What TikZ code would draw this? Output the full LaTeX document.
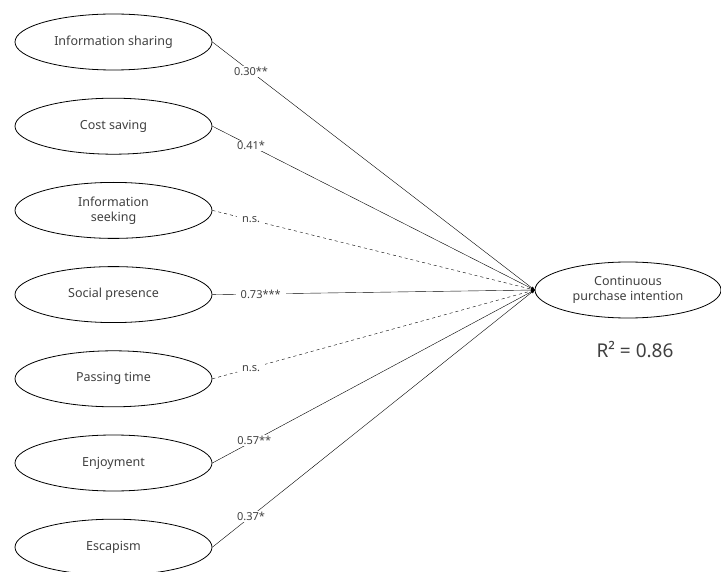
\documentclass[tikz,border=0pt]{standalone}
\usepackage{fontspec}
\setmainfont{Noto Sans}
\usetikzlibrary{arrows,shapes.geometric,positioning}

\begin{document}
\begin{tikzpicture}[>=stealth', x=1pt, y=-1pt, node distance=84.2pt,
  factor/.style={ellipse, draw, thick, minimum width=197pt, minimum height=56pt,
    inner sep=0pt, align=center, font=\fontsize{12.5}{15}\selectfont, text=black!75},
  coef/.style={fill=white, inner xsep=5pt, inner ysep=1pt, font=\fontsize{11}{13}\selectfont, text=black!75}]
  \useasboundingbox (0,0) rectangle (721,572);
  \node[factor] (is) at (113.5,42) {Information sharing};
  \node[factor] (cs) [below of=is] {Cost saving};
  \node[factor] (ik) [below of=cs] {Information\\seeking};
  \node[factor] (sp) [below of=ik] {Social presence};
  \node[factor] (pt) [below of=sp] {Passing time};
  \node[factor] (en) [below of=pt] {Enjoyment};
  \node[factor] (es) [below of=en] {Escapism};
  \node[factor, minimum width=186pt] (cpi) at (628,290) {Continuous\\purchase intention};
  \node[font=\fontsize{19}{22}\selectfont, text=black!75] (r2) at (635,350) {R² = 0.86};
  \path[->]
  (is.east) edge node[coef, pos=.12] {0.30**} (cpi.west)
  (cs.east) edge node[coef, pos=.12] {0.41*} (cpi.west)
  (ik.east) edge[dashed] node[coef, pos=.12] {n.s.} (cpi.west)
  (sp.east) edge node[coef, pos=.15] {0.73***} (cpi.west)
  (pt.east) edge[dashed] node[coef, pos=.12] {n.s.} (cpi.west)
  (en.east) edge node[coef, pos=.13] {0.57**} (cpi.west)
  (es.east) edge node[coef, pos=.12] {0.37*} (cpi.west);
\end{tikzpicture}
\end{document}
